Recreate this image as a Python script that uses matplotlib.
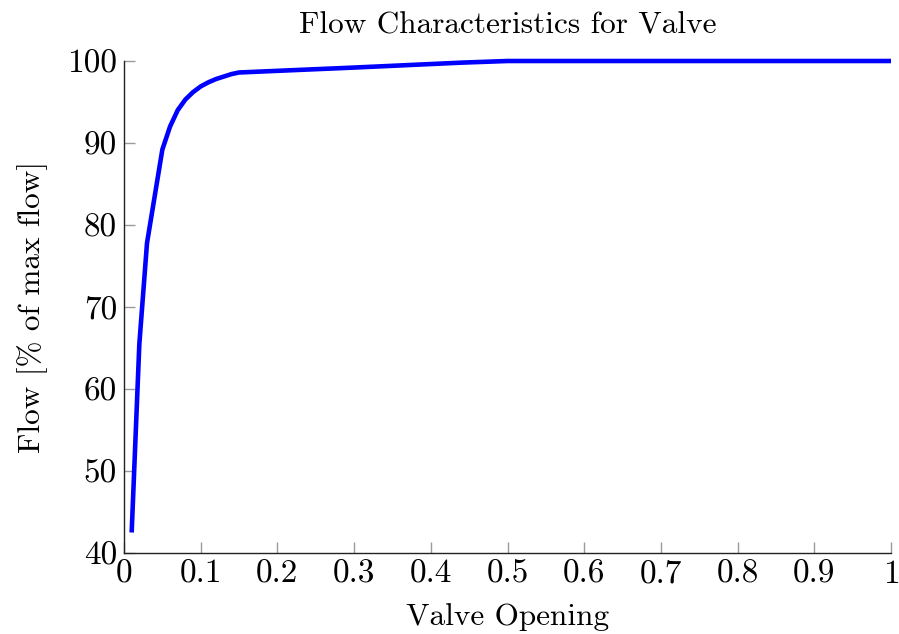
import matplotlib
matplotlib.use('Agg')
import matplotlib.pyplot as plt

# LaTeX/pgfplots look: Computer Modern shipped with matplotlib
plt.rcParams['font.family'] = 'serif'
plt.rcParams['font.serif'] = ['cmr10']
plt.rcParams['mathtext.fontset'] = 'cm'
plt.rcParams['axes.formatter.use_mathtext'] = True

# valve opening vs flow (% of max flow)
opening = [0.01, 0.02, 0.03, 0.05, 0.06, 0.07, 0.08, 0.09, 0.10, 0.11,
           0.12, 0.13, 0.14, 0.15, 0.20, 0.30, 0.44, 0.50, 0.75, 1.00]
flow = [42.5, 65.5, 77.8, 89.2, 92.0, 94.0, 95.3, 96.2, 96.9, 97.4,
        97.8, 98.1, 98.4, 98.6, 98.8, 99.2, 99.8, 100.0, 100.0, 100.0]

x_ticks = [0, 0.1, 0.2, 0.3, 0.4, 0.5, 0.6, 0.7, 0.8, 0.9, 1]
x_labels = ['0', '0.1', '0.2', '0.3', '0.4', '0.5', '0.6', '0.7', '0.8', '0.9', '1']
y_ticks = [40, 50, 60, 70, 80, 90, 100]

fig = plt.figure(figsize=(8.99, 6.34), dpi=100)
ax = fig.add_axes([124 / 899, 1 - 553 / 634, 767 / 899, 492 / 634])

ax.plot(opening, flow, color='#0000ff', lw=3.3, solid_joinstyle='round',
        solid_capstyle='butt', clip_on=False)

ax.set_xlim(0, 1)
ax.set_ylim(40, 100)
ax.set_xticks(x_ticks)
ax.set_xticklabels(x_labels)
ax.set_yticks(y_ticks)
ax.set_yticklabels([str(v) for v in y_ticks])

for side in ['top', 'right']:
    ax.spines[side].set_visible(False)
for side in ['left', 'bottom']:
    ax.spines[side].set_linewidth(1.0)
    ax.spines[side].set_color('#222222')

ax.tick_params(direction='in', length=8, width=1.0, color='#9a9a9a',
               labelsize=24, pad=5)

ax.set_title('Flow Characteristics for Valve', fontsize=22.5, pad=20)
ax.set_xlabel('Valve Opening', fontsize=22.5, labelpad=10)
ax.set_ylabel('Flow [% of max flow]', fontsize=22.5, labelpad=14)

fig.savefig('out.png', dpi=100)
